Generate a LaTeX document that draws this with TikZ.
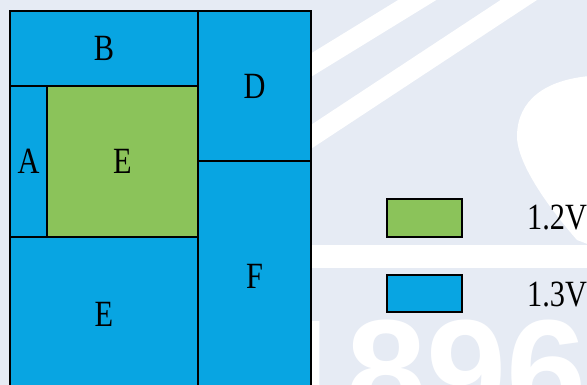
\documentclass[tikz,border=0pt]{standalone}
\usepackage{fontspec}
\setmainfont{Liberation Serif}[FakeStretch=0.82]
\newfontfamily\wmfont{Liberation Sans}
\definecolor{bgc}{RGB}{230,235,244}
\definecolor{blk}{RGB}{8,165,226}
\definecolor{grn}{RGB}{139,195,90}
\begin{document}
\begin{tikzpicture}[x=1pt,y=-1pt,
  cell/.style={draw=black, line width=1.5pt, inner sep=0pt, font=\fontsize{37}{40}\selectfont},
  bluecell/.style={cell, fill=blk},
  greencell/.style={cell, fill=grn},
  legtext/.style={anchor=west, inner sep=0pt, font=\fontsize{37}{40}\selectfont}]
\useasboundingbox (0,0) rectangle (587,385);
\clip (0,0) rectangle (587,385);
\fill[bgc] (0,0) rectangle (587,385);
% watermark
\draw[white, line width=20pt] (150,164) -- (440,-14);
\draw[white, line width=20pt] (200,210) -- (540,-14);
\fill[white] (311,245) rectangle (587,268);
\fill[white] (590,76) .. controls (545,80) and (518,100) .. (517,135)
  .. controls (516,165) and (555,215) .. (577,240) -- (590,245) -- cycle;
\node[white, anchor=base west, inner sep=0pt, font=\wmfont\bfseries\fontsize{144}{144}\selectfont] (wm) at (266,420) {1896};
% cells
\node[bluecell, minimum width=188pt, minimum height=75pt] (B) at (104,48.5) {B};
\node[bluecell, minimum width=113pt, minimum height=150pt] (D) at (254.5,86) {D};
\node[bluecell, minimum width=37pt, minimum height=151pt] (A) at (28.5,161.5) {A};
\node[greencell, minimum width=151pt, minimum height=151pt] (E1) at (122.5,161.5) {E};
\node[bluecell, minimum width=188pt, minimum height=155pt] (E2) at (104,314.5) {E};
\node[bluecell, minimum width=113pt, minimum height=231pt] (F) at (254.5,276.5) {F};
% legend
\node[greencell, minimum width=75pt, minimum height=38pt] (L1) at (424.5,218) {};
\node[bluecell, minimum width=75pt, minimum height=37pt] (L2) at (424.5,293.5) {};
\node[legtext] (T1) at (527,218) {1.2V};
\node[legtext] (T2) at (527,295) {1.3V};
\end{tikzpicture}
\end{document}
